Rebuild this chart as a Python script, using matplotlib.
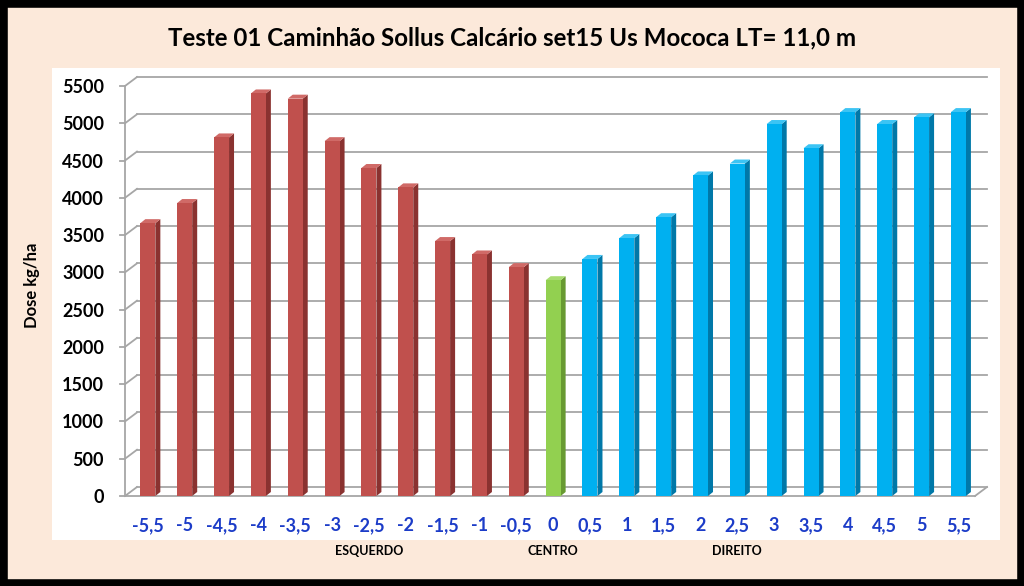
import matplotlib
matplotlib.use("Agg")
import matplotlib.pyplot as plt
from matplotlib.patches import Rectangle, Polygon

# data
positions = ["-5,5", "-5", "-4,5", "-4", "-3,5", "-3", "-2,5", "-2", "-1,5", "-1", "-0,5",
             "0", "0,5", "1", "1,5", "2", "2,5", "3", "3,5", "4", "4,5", "5", "5,5"]
doses = [3660, 3930, 4810, 5400, 5330, 4760, 4400, 4140, 3420, 3240, 3070,
         2895, 3180, 3460, 3740, 4300, 4460, 4990, 4665, 5150, 4990, 5080, 5150]
sides = ["left"] * 11 + ["center"] + ["right"] * 11
group_labels = ["ESQUERDO", "CENTRO", "DIREITO"]
group_at = [6, 11, 16]
yticks = list(range(0, 5501, 500))

face = {"left": "#C0504D", "center": "#92D050", "right": "#00B0F0"}
dark = {"left": "#8A3230", "center": "#689A32", "right": "#0078A8"}
top_c = {"left": "#D06A67", "center": "#A8DC70", "right": "#3CC4F4"}

plt.rcParams['font.family'] = ['Lato', 'DejaVu Sans']

W, H = 1024, 586
fig = plt.figure(figsize=(W / 100, H / 100), dpi=100)
fig.patch.set_facecolor('#FCE9DA')

# white plot area (behind the axes)
fig.patches.append(Rectangle((52 / W, 1 - 540 / H), 948 / W, 472 / H,
                             transform=fig.transFigure, facecolor='white',
                             edgecolor='none', zorder=-5))
# black frame
fig.patches.append(Rectangle((0, 0), 1, 1, transform=fig.transFigure, fill=False,
                             edgecolor='black', lw=10.5, zorder=10))

ax_l, ax_r, ax_t, ax_b = 125, 975, 86, 496
ax = fig.add_axes([ax_l / W, 1 - ax_b / H, (ax_r - ax_l) / W, (ax_b - ax_t) / H])
ax.set_facecolor('none')
x0, x1 = -0.62, len(doses) - 1 + 0.45
ax.set_xlim(x0, x1)
ax.set_ylim(0, 5500)
for s in ax.spines.values():
    s.set_visible(False)

# pixel -> data units
px = (x1 - x0) / (ax_r - ax_l)
py = 5500 / (ax_b - ax_t)
ddx, ddy = 12 * px, 9 * py  # wall depth
grid_c = '#A6A6A6'

for v in yticks:
    ax.plot([x0 + ddx, x1 + ddx], [v + ddy, v + ddy], color=grid_c, lw=1.3, clip_on=False, zorder=1)
    ax.plot([x0, x0 + ddx], [v, v + ddy], color=grid_c, lw=1.3, clip_on=False, zorder=1)
    ax.plot([x0 - 5 * px, x0], [v, v], color=grid_c, lw=1.3, clip_on=False, zorder=1)
ax.plot([x0, x0], [0, 5500], color=grid_c, lw=1.3, clip_on=False, zorder=1)
ax.plot([x0, x1], [0, 0], color=grid_c, lw=1.3, clip_on=False, zorder=1)
ax.plot([x1, x1 + ddx], [0, ddy], color=grid_c, lw=1.3, clip_on=False, zorder=1)

# pseudo-3D columns
bw = 15 * px
sx, sy = 5 * px, 4 * py
for i, (h, sd) in enumerate(zip(doses, sides)):
    l, r = i - bw / 2, i + bw / 2
    ax.add_patch(Polygon([(r, 0), (r + sx, sy), (r + sx, h + sy), (r, h)],
                         closed=True, facecolor=dark[sd], edgecolor='none', zorder=3, clip_on=False))
    ax.add_patch(Polygon([(l, h), (r, h), (r + sx, h + sy), (l + sx, h + sy)],
                         closed=True, facecolor=top_c[sd], edgecolor='none', zorder=3, clip_on=False))
    ax.add_patch(Rectangle((l, 0), bw, h, facecolor=face[sd], edgecolor='none', zorder=4, clip_on=False))

ax.set_xticks(range(len(positions)))
ax.set_xticklabels(positions, color='#1C3CC8', fontsize=13, fontweight='bold')
ax.set_yticks(yticks)
ax.set_yticklabels([str(v) for v in yticks], fontsize=13, fontweight='bold')
ax.tick_params(axis='x', length=0, pad=15)
ax.tick_params(axis='y', length=0, pad=15)

tr = ax.get_xaxis_transform()
for lab, gx in zip(group_labels, group_at):
    ax.text(gx, -55 / 410, lab, transform=tr, ha='center', va='center',
            fontsize=9, fontweight='bold')

fig.text(32 / W, 1 - 285 / H, "Dose kg/ha", rotation=90, ha='center', va='center',
         fontsize=12, fontweight='bold')
fig.text(512 / W, 1 - 38 / H, "Teste 01 Caminhão Sollus Calcário set15 Us Mococa LT= 11,0 m",
         ha='center', va='center', fontsize=17.4, fontweight='bold')

fig.savefig("out.png", dpi=100, facecolor=fig.get_facecolor())
